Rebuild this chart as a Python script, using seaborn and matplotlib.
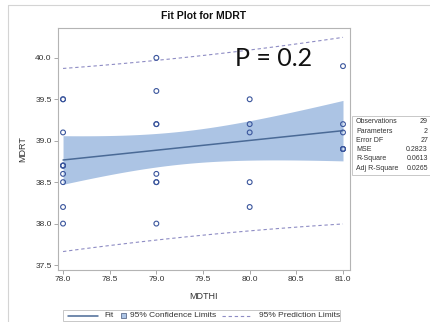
import numpy as np
import pandas as pd
import matplotlib
matplotlib.use("Agg")
import matplotlib.pyplot as plt
from matplotlib.lines import Line2D
from matplotlib.patches import Rectangle
import seaborn as sns

# Observations: temperature-humidity index vs. rectal temperature
mdthi = [78] * 10 + [79] * 8 + [80] * 5 + [81] * 6
mdrt = [39.5, 39.1, 38.7, 38.6, 38.5, 38.2, 38.0, 38.7, 38.7, 39.5,
        40.0, 39.6, 39.2, 38.6, 38.5, 38.0, 38.5, 39.2,
        39.5, 39.2, 39.1, 38.5, 38.2,
        39.9, 39.2, 39.1, 38.9, 38.9, 38.9]

x_ticks = [78.0, 78.5, 79.0, 79.5, 80.0, 80.5, 81.0]
y_ticks = [37.5, 38.0, 38.5, 39.0, 39.5, 40.0]

stat_names = ["Observations", "Parameters", "Error DF", "MSE", "R-Square", "Adj R-Square"]
stat_values = ["29", "2", "27", "0.2823", "0.0613", "0.0265"]

p_label = "P = 0.2"

# Least-squares fit with 95% confidence and prediction limits
x = np.asarray(mdthi, float)
y = np.asarray(mdrt, float)
n = len(x)
slope, intercept = np.polyfit(x, y, 1)
resid = y - (intercept + slope * x)
s = np.sqrt(np.sum(resid ** 2) / (n - 2))
sxx = np.sum((x - x.mean()) ** 2)
t_crit = 2.0518  # t(0.975, 27)
grid = np.linspace(x.min(), x.max(), 100)
fit = intercept + slope * grid
se_mean = s * np.sqrt(1 / n + (grid - x.mean()) ** 2 / sxx)
se_pred = s * np.sqrt(1 + 1 / n + (grid - x.mean()) ** 2 / sxx)
curves = pd.DataFrame({
    "MDTHI": grid, "fit": fit,
    "clm_lo": fit - t_crit * se_mean, "clm_hi": fit + t_crit * se_mean,
    "pl_lo": fit - t_crit * se_pred, "pl_hi": fit + t_crit * se_pred,
})
obs = pd.DataFrame({"MDTHI": mdthi, "MDRT": mdrt})

sns.set_theme(style="white")
plt.rcParams["font.family"] = ["Liberation Sans", "DejaVu Sans"]

W, H = 430, 322
fig = plt.figure(figsize=(W / 100, H / 100), dpi=100)
fig.patch.set_facecolor("white")
ax = fig.add_axes([58 / W, 1 - 270 / H, (350 - 58) / W, (270 - 28) / H])

band_color = "#ACC4E4"
fit_color = "#4A6A96"
pl_color = "#8E8CC4"
marker_color = "#3A559C"
text_color = "#333333"
dash = (0, (3, 2.5))

ax.fill_between(curves["MDTHI"], curves["clm_lo"], curves["clm_hi"],
                color=band_color, linewidth=0, zorder=1)
sns.lineplot(data=curves, x="MDTHI", y="fit", ax=ax, color=fit_color,
             linewidth=1.1, zorder=2)
for col in ["pl_lo", "pl_hi"]:
    sns.lineplot(data=curves, x="MDTHI", y=col, ax=ax, color=pl_color,
                 linewidth=0.8, linestyle=dash, zorder=2)
sns.scatterplot(data=obs, x="MDTHI", y="MDRT", ax=ax, marker="o", s=12,
                facecolor="none", edgecolor=marker_color, linewidth=0.8, zorder=3)

ax.set_xlim(77.946, 81.075)
ax.set_ylim(37.44, 40.36)
ax.set_xticks(x_ticks)
ax.set_yticks(y_ticks)
ax.set_xticklabels([f"{v:.1f}" for v in x_ticks])
ax.set_yticklabels([f"{v:.1f}" for v in y_ticks])
ax.tick_params(axis="both", which="both", direction="out", length=3, width=0.6,
               color="#9A9A9A", labelsize=6, labelcolor=text_color, pad=1.5,
               bottom=True, left=True)
for sp in ax.spines.values():
    sp.set_color("#B4B4B4")
    sp.set_linewidth(0.8)
ax.set_xlabel("MDTHI", fontsize=6.5, color=text_color, labelpad=6)
ax.set_ylabel("MDRT", fontsize=6.5, color=text_color, labelpad=6)

fig.text(204 / W, 1 - 16 / H, "Fit Plot for MDRT", ha="center", va="center",
         fontsize=7.5, fontweight="bold", color="#111111")

fig.text(274 / W, 1 - 59 / H, p_label, ha="center", va="center",
         fontsize=18, color="#111111", family=["Lato", "DejaVu Sans"])


def px(xp, yp):
    return xp / W, 1 - yp / H


# Outer graph frame
fig.add_artist(Line2D([8 / W, 1], [1 - 5 / H, 1 - 5 / H], color="#D4D4D4", lw=0.8,
                      transform=fig.transFigure))
fig.add_artist(Line2D([8 / W, 8 / W], [0, 1 - 5 / H], color="#D4D4D4", lw=0.8,
                      transform=fig.transFigure))

# Fit statistics inset
fig.add_artist(Rectangle(px(352, 175), 90 / W, 59 / H, transform=fig.transFigure,
                         facecolor="white", edgecolor="#C8C8C8", lw=0.7))
for i, (name, val) in enumerate(zip(stat_names, stat_values)):
    yy = 1 - (122 + i * 9.2) / H
    fig.text(356 / W, yy, name, ha="left", va="center", fontsize=5, color=text_color)
    fig.text(428 / W, yy, val, ha="right", va="center", fontsize=5, color=text_color)

# Legend strip below the axes
fig.add_artist(Rectangle(px(63, 321), (340 - 63) / W, 11 / H, transform=fig.transFigure,
                         facecolor="white", edgecolor="#C8C8C8", lw=0.7))
ly = 1 - 315.5 / H
fig.add_artist(Line2D([68 / W, 98 / W], [ly, ly], color=fit_color, lw=1.1,
                      transform=fig.transFigure))
fig.text(104 / W, ly, "Fit", ha="left", va="center", fontsize=6, color=text_color)
fig.add_artist(Rectangle(px(121, 318), 5 / W, 5 / H, transform=fig.transFigure,
                         facecolor=band_color, edgecolor="#5E6E8E", lw=0.6))
fig.text(130 / W, ly, "95% Confidence Limits", ha="left", va="center", fontsize=6,
         color=text_color)
fig.add_artist(Line2D([222 / W, 252 / W], [ly, ly], color=pl_color, lw=0.8,
                      linestyle=dash, transform=fig.transFigure))
fig.text(259 / W, ly, "95% Prediction Limits", ha="left", va="center", fontsize=6,
         color=text_color)

fig.savefig("out.png", dpi=100, facecolor="white")
